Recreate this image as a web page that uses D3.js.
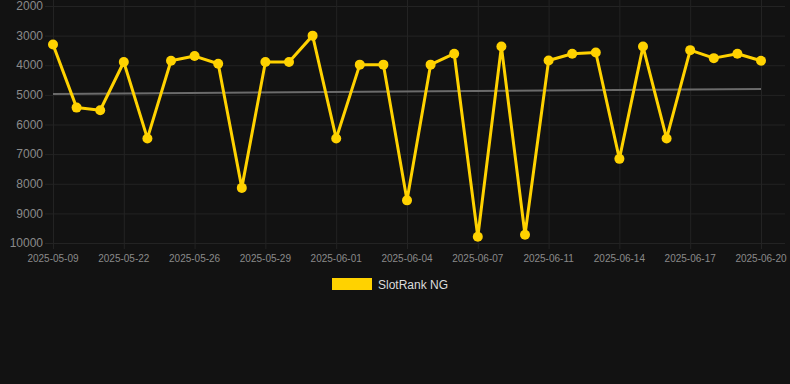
<!DOCTYPE html>
<html>
<head>
<meta charset="utf-8">
<script src="https://cdn.jsdelivr.net/npm/d3@7"></script>
<style>
  body { margin: 0; background: #121212; }
  svg { display: block; font-family: "Liberation Sans", Arial, sans-serif; }
  .grid line { stroke: #232323; stroke-width: 1; }
  .grid path { display: none; }
</style>
</head>
<body>
<script>
// dates on the x axis (only every 3rd one is labelled)
var dates = ['2025-05-09','2025-05-20','2025-05-21','2025-05-22','2025-05-24','2025-05-25',
  '2025-05-26','2025-05-27','2025-05-28','2025-05-29','2025-05-30','2025-05-31',
  '2025-06-01','2025-06-02','2025-06-03','2025-06-04','2025-06-05','2025-06-06',
  '2025-06-07','2025-06-09','2025-06-10','2025-06-11','2025-06-12','2025-06-13',
  '2025-06-14','2025-06-15','2025-06-16','2025-06-17','2025-06-18','2025-06-19','2025-06-20'];

// rank values
var ranks = [3300,5430,5520,3890,6470,3850,3690,3950,8140,3890,3890,3000,6470,3980,3980,
  8560,3980,3610,9790,3370,9720,3840,3610,3570,7160,3370,6470,3490,3760,3610,3850];

// trend line end values
var trend = [4970, 4800];

var yTicks = [2000,3000,4000,5000,6000,7000,8000,9000,10000];
var seriesName = 'SlotRank NG';

// set the dimensions (window.top is reserved, so prefixed names)
var W = 790, H = 384;
var plotLeft = 53, plotRight = 761, plotTop = 6, plotBottom = 243;

var svg = d3.select("body").append("svg")
    .attr("width", W)
    .attr("height", H);

var x = d3.scalePoint()
    .domain(dates)
    .range([plotLeft, plotRight]);

// reversed: best rank at the top
var y = d3.scaleLinear()
    .domain([2000, 10000])
    .range([plotTop, plotBottom]);

var labelled = dates.filter(function (d, i) { return i % 3 == 0; });

// horizontal gridlines
svg.append("g")
    .attr("class", "grid")
    .attr("transform", "translate(" + plotLeft + ",0)")
    .call(d3.axisLeft(y).tickValues(yTicks).tickSize(0).tickFormat(""))
    .selectAll("line").attr("x1", -8).attr("x2", 785 - plotLeft);

// vertical gridlines
svg.append("g")
    .attr("class", "grid")
    .attr("transform", "translate(0," + (plotBottom + 6) + ")")
    .call(d3.axisBottom(x).tickValues(labelled).tickSize(-(plotBottom + 6)).tickFormat(""));

// y labels
svg.append("g")
    .selectAll("text")
    .data(yTicks)
    .join("text")
    .attr("x", 43)
    .attr("y", function (d) { return y(d); })
    .attr("dy", "0.35em")
    .attr("text-anchor", "end")
    .style("font-size", "12px")
    .style("fill", "#8a8a8a")
    .text(function (d) { return d; });

// x labels
svg.append("g")
    .selectAll("text")
    .data(labelled)
    .join("text")
    .attr("x", function (d) { return x(d); })
    .attr("y", 262)
    .attr("text-anchor", "middle")
    .style("font-size", "10px")
    .style("fill", "#8a8a8a")
    .text(function (d) { return d; });

// trend line
svg.append("line")
    .attr("x1", x(dates[0]))
    .attr("x2", x(dates[dates.length - 1]))
    .attr("y1", y(trend[0]))
    .attr("y2", y(trend[1]))
    .style("stroke", "#6b6b6b")
    .style("stroke-width", 2);

var valueline = d3.line()
    .x(function (d, i) { return x(dates[i]); })
    .y(function (d) { return y(d); });

svg.append("path")
    .datum(ranks)
    .attr("d", valueline)
    .style("fill", "none")
    .style("stroke", "#ffd200")
    .style("stroke-width", 3)
    .style("stroke-linejoin", "round");

svg.append("g")
    .selectAll("circle")
    .data(ranks)
    .join("circle")
    .attr("cx", function (d, i) { return x(dates[i]); })
    .attr("cy", function (d) { return y(d); })
    .attr("r", 5)
    .style("fill", "#ffd200");

// legend
svg.append("rect")
    .attr("x", 332)
    .attr("y", 278)
    .attr("width", 40)
    .attr("height", 12)
    .style("fill", "#ffd200");

svg.append("text")
    .attr("x", 378)
    .attr("y", 288.5)
    .style("font-size", "12px")
    .style("fill", "#dcdcdc")
    .text(seriesName);
</script>
</body>
</html>
